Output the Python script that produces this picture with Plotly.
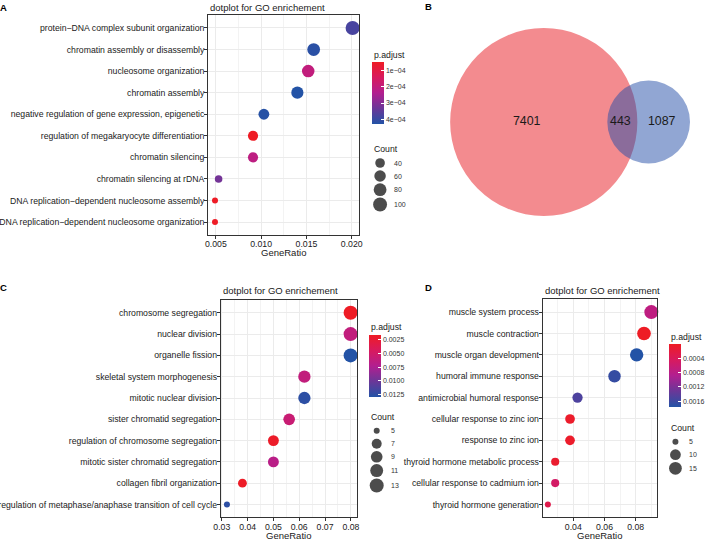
import math
import plotly.graph_objects as go

W, H = 708, 539
FONT = "Liberation Sans"

# ---------------- data ----------------
a_terms = ["protein−DNA complex subunit organization", "chromatin assembly or disassembly",
           "nucleosome organization", "chromatin assembly",
           "negative regulation of gene expression, epigenetic",
           "regulation of megakaryocyte differentiation", "chromatin silencing",
           "chromatin silencing at rDNA", "DNA replication−dependent nucleosome assembly",
           "DNA replication−dependent nucleosome organization"]
a_ratio = [0.0201, 0.0158, 0.0152, 0.0140, 0.0103, 0.0091, 0.0091, 0.0053, 0.0049, 0.0049]
a_count = [101, 79, 76, 70, 52, 45, 45, 27, 24, 24]
a_padj = [3.8e-4, 4.2e-4, 2.0e-4, 4.3e-4, 4.25e-4, 0.46e-4, 2.1e-4, 3.2e-4, 0.47e-4, 0.47e-4]
a_xticks = [0.005, 0.010, 0.015, 0.020]
a_xticktext = ["0.005", "0.010", "0.015", "0.020"]
a_cticks = [1e-4, 2e-4, 3e-4, 4e-4]
a_cticktext = ["1e−04", "2e−04", "3e−04", "4e−04"]
a_size_breaks = [40, 60, 80, 100]

venn_only_1 = 7401
venn_both = 443
venn_only_2 = 1087

c_terms = ["chromosome segregation", "nuclear division", "organelle fission",
           "skeletal system morphogenesis", "mitotic nuclear division",
           "sister chromatid segregation", "regulation of chromosome segregation",
           "mitotic sister chromatid segregation", "collagen fibril organization",
           "regulation of metaphase/anaphase transition of cell cycle"]
c_ratio = [0.0799, 0.0799, 0.0799, 0.0620, 0.0620, 0.0561, 0.0500, 0.0500, 0.0380, 0.0320]
c_count = [13, 13, 13, 10, 10, 9, 8, 8, 6, 5]
c_padj = [0.0017, 0.0062, 0.0129, 0.0062, 0.0125, 0.0057, 0.0019, 0.0068, 0.0018, 0.0125]
c_xticks = [0.03, 0.04, 0.05, 0.06, 0.07, 0.08]
c_xticktext = ["0.03", "0.04", "0.05", "0.06", "0.07", "0.08"]
c_cticks = [0.0025, 0.0050, 0.0075, 0.0100, 0.0125]
c_cticktext = ["0.0025", "0.0050", "0.0075", "0.0100", "0.0125"]
c_size_breaks = [5, 7, 9, 11, 13]

d_terms = ["muscle system process", "muscle contraction", "muscle organ development",
           "humoral immune response", "antimicrobial humoral response",
           "cellular response to zinc ion", "response to zinc ion",
           "thyroid hormone metabolic process", "cellular response to cadmium ion",
           "thyroid hormone generation"]
d_ratio = [0.0900, 0.0853, 0.0806, 0.0664, 0.0427, 0.0379, 0.0379, 0.0284, 0.0284, 0.0237]
d_count = [19, 18, 17, 14, 9, 8, 8, 6, 6, 5]
d_padj = [0.00074, 0.000001, 0.00176, 0.00165, 0.00150, 0.00005, 0.00005, 0.00008, 0.00050, 0.00030]
d_xticks = [0.04, 0.06, 0.08]
d_xticktext = ["0.04", "0.06", "0.08"]
d_cticks = [0.0004, 0.0008, 0.0012, 0.0016]
d_cticktext = ["0.0004", "0.0008", "0.0012", "0.0016"]
d_size_breaks = [5, 10, 15]

# ---------------- style ----------------
COLORSCALE = [[0.0, "#2353A6"], [0.25, "#6A3798"], [0.5, "#B21F90"],
              [0.75, "#D81A5E"], [1.0, "#EE1C25"]]
TXT = "#1A1A1A"


def fx(x):
    return x / W


def fy(y):
    return 1 - y / H


def size_px(c, cmin, cmax):
    return 6 + 8 * math.sqrt((c - cmin) / (cmax - cmin))


def minor_vals(ticks):
    step = ticks[1] - ticks[0]
    vals = [ticks[0] - step / 2]
    for i in range(len(ticks) - 1):
        vals.append((ticks[i] + ticks[i + 1]) / 2)
    vals.append(ticks[-1] + step / 2)
    return vals


fig = go.Figure()
layout = dict(width=W, height=H, margin=dict(l=0, r=0, t=0, b=0),
              paper_bgcolor="white", plot_bgcolor="rgba(0,0,0,0)",
              showlegend=False, font=dict(family=FONT, color=TXT))
annotations = []
shapes = []

panels = [
    dict(ax="", terms=a_terms, ratio=a_ratio, count=a_count, padj=a_padj,
         xticks=a_xticks, xtt=a_xticktext, cticks=a_cticks, ctt=a_cticktext,
         breaks=a_size_breaks, box=(209, 361, 15, 235),
         cb=(374, 62, 62), pt_y=55, cnt_y=149, leg_x=381.7, leg_y0=163, lab_x=394,
         title_y=7, gr_y=252.5, letter=("A", 4, 7)),
    dict(ax="2", terms=c_terms, ratio=c_ratio, count=c_count, padj=c_padj,
         xticks=c_xticks, xtt=c_xticktext, cticks=c_cticks, ctt=c_cticktext,
         breaks=c_size_breaks, box=(221.7, 358.3, 300, 517.3),
         cb=(370.7, 335, 61.7), pt_y=327.3, cnt_y=416.7, leg_x=378.3, leg_y0=430.7, lab_x=390.7,
         title_y=290.5, gr_y=535, letter=("C", 4, 287.5)),
    dict(ax="3", terms=d_terms, ratio=d_ratio, count=d_count, padj=d_padj,
         xticks=d_xticks, xtt=d_xticktext, cticks=d_cticks, ctt=d_cticktext,
         breaks=d_size_breaks, box=(545, 659.3, 299.3, 517.3),
         cb=(671.7, 344, 62.7), pt_y=336.7, cnt_y=427.7, leg_x=678.3, leg_y0=441.7, lab_x=690,
         title_y=290.5, gr_y=535, letter=("D", 430.3, 287.5)),
]

leg_x_all, leg_y_all, leg_s_all = [], [], []

for p in panels:
    x0, x1, y0, y1 = p["box"]
    rmin, rmax = min(p["ratio"]), max(p["ratio"])
    pad = 0.05 * (rmax - rmin)
    cmin, cmax = min(p["count"]), max(p["count"])
    neg = [-v for v in p["padj"]]
    sizes = [size_px(c, cmin, cmax) for c in p["count"]]
    cbx, cbtop, cblen = p["cb"]
    fig.add_trace(go.Scatter(
        x=p["ratio"], y=p["terms"], mode="markers",
        xaxis="x" + p["ax"], yaxis="y" + p["ax"],
        marker=dict(size=sizes, color=neg, colorscale=COLORSCALE,
                    cmin=min(neg), cmax=max(neg), line=dict(width=0), opacity=1,
                    showscale=True,
                    colorbar=dict(x=fx(cbx), xanchor="left", y=fy(cbtop), yanchor="top",
                                  len=cblen, lenmode="pixels", thickness=12,
                                  thicknessmode="pixels", xpad=0, ypad=0,
                                  outlinewidth=0, ticks="inside", ticklen=3,
                                  tickcolor="white", tickwidth=1,
                                  tickvals=[-v for v in p["cticks"]], ticktext=p["ctt"],
                                  tickfont=dict(size=7, family=FONT, color="#333333"))),
        cliponaxis=False, hoverinfo="skip"))
    common_ax = dict(showline=True, mirror=True, linecolor="#333333", linewidth=1,
                     ticks="outside", ticklen=3, tickcolor="#333333", tickwidth=1,
                     zeroline=False, automargin=False,
                     tickfont=dict(size=8.7, family=FONT, color=TXT),
                     gridcolor="#EBEBEB", gridwidth=1, showgrid=True)
    layout["xaxis" + p["ax"]] = dict(
        common_ax, domain=[fx(x0), fx(x1)], range=[rmin - pad, rmax + pad],
        anchor="y" + p["ax"], tickmode="array", tickvals=p["xticks"], ticktext=p["xtt"],
        ticklabelstandoff=-2,
        minor=dict(tickmode="array", tickvals=minor_vals(p["xticks"]), showgrid=True,
                   gridcolor="#F3F3F3", gridwidth=0.6, ticks=""))
    layout["yaxis" + p["ax"]] = dict(
        common_ax, domain=[fy(y1), fy(y0)], type="category",
        categoryorder="array", categoryarray=p["terms"], ticklabelstandoff=-2,
        range=[len(p["terms"]) - 0.4, -0.6], anchor="x" + p["ax"])
    # titles
    annotations.append(dict(text="dotplot for GO enrichement", x=fx(x0), y=fy(p["title_y"]),
                            xref="paper", yref="paper", xanchor="left", yanchor="middle",
                            showarrow=False, font=dict(size=9.5, family=FONT, color=TXT)))
    annotations.append(dict(text="GeneRatio", x=fx((x0 + x1) / 2), y=fy(p["gr_y"]),
                            xref="paper", yref="paper", xanchor="center", yanchor="middle",
                            showarrow=False, font=dict(size=9.5, family=FONT, color=TXT)))
    annotations.append(dict(text="p.adjust", x=fx(cbx), y=fy(p["pt_y"]),
                            xref="paper", yref="paper", xanchor="left", yanchor="middle",
                            showarrow=False, font=dict(size=8.7, family=FONT, color=TXT)))
    annotations.append(dict(text="Count", x=fx(cbx), y=fy(p["cnt_y"]),
                            xref="paper", yref="paper", xanchor="left", yanchor="middle",
                            showarrow=False, font=dict(size=8.7, family=FONT, color=TXT)))
    L, lx, ly = p["letter"]
    annotations.append(dict(text="<b>" + L + "</b>", x=fx(lx), y=fy(ly),
                            xref="paper", yref="paper", xanchor="center", yanchor="middle",
                            showarrow=False, font=dict(size=9.5, family=FONT, color="black")))
    # size legend
    bs = [size_px(b, cmin, cmax) for b in p["breaks"]]
    ys = [p["leg_y0"]]
    key = lambda s: max(13, s + 1.5)
    for i in range(1, len(bs)):
        ys.append(ys[-1] + (key(bs[i - 1]) + key(bs[i])) / 2)
    for b, s, yy in zip(p["breaks"], bs, ys):
        leg_x_all.append(p["leg_x"])
        leg_y_all.append(yy)
        leg_s_all.append(s)
        annotations.append(dict(text=str(b), x=p["lab_x"], y=yy, xref="x4", yref="y4",
                                xanchor="left", yanchor="middle", showarrow=False,
                                font=dict(size=7, family=FONT, color="#333333")))

# overlay axis in pixel units
layout["xaxis4"] = dict(domain=[0, 1], range=[0, W], visible=False, anchor="y4",
                        fixedrange=True)
layout["yaxis4"] = dict(domain=[0, 1], range=[H, 0], visible=False, anchor="x4",
                        fixedrange=True)

fig.add_trace(go.Scatter(x=leg_x_all, y=leg_y_all, mode="markers", xaxis="x4", yaxis="y4",
                         marker=dict(size=leg_s_all, color="black", line=dict(width=0)),
                         hoverinfo="skip", cliponaxis=False))

# ---------------- Venn (area proportional) ----------------
n1 = venn_only_1 + venn_both
n2 = venn_only_2 + venn_both
R1 = 94.0
unit = math.pi * R1 ** 2 / n1
R2 = math.sqrt(n2 * unit / math.pi)
target = venn_both * unit


def lens(d, r1, r2):
    a1 = r1 ** 2 * math.acos((d * d + r1 * r1 - r2 * r2) / (2 * d * r1))
    a2 = r2 ** 2 * math.acos((d * d + r2 * r2 - r1 * r1) / (2 * d * r2))
    t = (-d + r1 + r2) * (d + r1 - r2) * (d - r1 + r2) * (d + r1 + r2)
    return a1 + a2 - 0.5 * math.sqrt(max(t, 0))


lo, hi = R1 - R2 + 1e-6, R1 + R2 - 1e-6
for _ in range(80):
    mid = (lo + hi) / 2
    if lens(mid, R1, R2) > target:
        lo = mid
    else:
        hi = mid
dist = (lo + hi) / 2

vcx, vcy = 572.5, 122.0
c1x = vcx - (dist + R2 - R1) / 2
c2x = c1x + dist
shapes.append(dict(type="circle", xref="x4", yref="y4", x0=c1x - R1, x1=c1x + R1,
                   y0=vcy - R1, y1=vcy + R1, fillcolor="rgba(232,24,32,0.5)",
                   line=dict(width=0), layer="below"))
shapes.append(dict(type="circle", xref="x4", yref="y4", x0=c2x - R2, x1=c2x + R2,
                   y0=vcy - R2, y1=vcy + R2, fillcolor="rgba(36,78,168,0.5)",
                   line=dict(width=0), layer="below"))
tx = [((c1x - R1) + (c2x - R2)) / 2 - 2, ((c2x - R2) + (c1x + R1)) / 2 - 2,
      ((c1x + R1) + (c2x + R2)) / 2 - 2]
fig.add_trace(go.Scatter(x=tx, y=[vcy] * 3, mode="text", xaxis="x4", yaxis="y4",
                         text=[str(venn_only_1), str(venn_both), str(venn_only_2)],
                         textposition="middle center",
                         textfont=dict(size=12.4, family=FONT, color=TXT),
                         hoverinfo="skip", cliponaxis=False))
annotations.append(dict(text="<b>B</b>", x=fx(430), y=fy(6.5), xref="paper", yref="paper",
                        xanchor="center", yanchor="middle", showarrow=False,
                        font=dict(size=9.5, family=FONT, color="black")))

layout["annotations"] = annotations
layout["shapes"] = shapes
fig.update_layout(**layout)
# remove the browser's default 8px body margin so the 708x539 figure fills the window
fig.write_html("out.html", config={"displayModeBar": False},
               post_script="document.body.style.margin='0';")
